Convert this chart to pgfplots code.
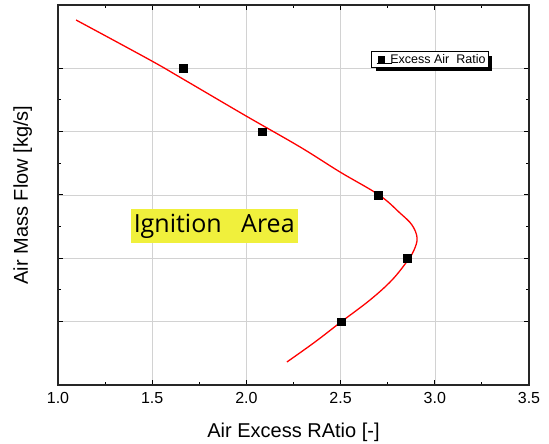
\documentclass[border=0pt]{standalone}
\usepackage{fontspec}
\setmainfont{Liberation Sans}
\newfontfamily\areafont{Open Sans}
\usepackage{pgfplots}
\pgfplotsset{compat=1.18}
\usetikzlibrary{shadows, calc}
\definecolor{hilite}{RGB}{240,240,60}

\begin{document}
\begin{tikzpicture}
\begin{axis}[
    scale only axis,
    width=471pt, height=380pt,
    xmin=1.0, xmax=3.5,
    ymin=0, ymax=6,
    xtick={1.0,1.5,2.0,2.5,3.0,3.5},
    minor x tick num=1,
    ytick={1,2,3,4,5},
    minor y tick num=1,
    yticklabels={},
    tick align=inside,
    major tick length=5pt,
    minor tick length=3pt,
    tick style={black, line width=1pt},
    axis line style={line width=1.3pt, black!85},
    grid=major,
    grid style={gray!35, line width=0.6pt},
    /pgf/number format/assume math mode=true,
    xticklabel style={font=\fontsize{16}{18}\selectfont,
        /pgf/number format/.cd, fixed, fixed zerofill, precision=1},
    xticklabel shift=4pt,
    xlabel={Air Excess RAtio [-]},
    ylabel={Air Mass Flow [kg/s]},
    label style={font=\fontsize{20}{22}\selectfont},
    x label style={at={(axis description cs:0.5,-0.124)}, anchor=center},
    y label style={at={(axis description cs:-0.075,0.5)}, anchor=center},
    legend style={at={(axis cs:2.975,5.14)}, anchor=center,
        font=\fontsize{12.5}{13.5}\selectfont, draw=black, line width=0.5pt,
        inner xsep=1pt, inner ysep=0.5pt,
        drop shadow={shadow xshift=4pt, shadow yshift=-4pt, opacity=1, fill=black}},
    legend cell align=left,
]
%% fitted curve
\addplot[red, line width=1.3pt, smooth, tension=0.6, forget plot] coordinates {
    (1.096,5.763)(1.488,5.132)(1.663,4.832)(1.998,4.248)(2.285,3.758)
    (2.497,3.363)(2.704,3.000)(2.815,2.716)(2.879,2.526)(2.906,2.321)
    (2.890,2.132)(2.858,1.974)(2.773,1.658)(2.656,1.342)(2.502,0.995)
    (2.364,0.679)(2.215,0.363)};

%% measured points
\addplot[only marks, mark=square*, mark size=3.8pt, black,
    legend image code/.code={
        \path[draw=none] (0cm,0cm) -- (0.55cm,0cm);
        \draw[mark=square*, mark size=3.3pt, black]
        plot coordinates {(0.3cm,0cm)};}] coordinates {
    (1.663,5.0)(2.083,4.0)(2.699,3.0)(2.852,2.0)(2.502,1.0)};
\addlegendentry{Excess Air\ \ Ratio}

\node[fill=hilite, inner xsep=3pt, inner ysep=5pt,
      font=\areafont\fontsize{25}{28}\selectfont]
    at (axis cs:1.829,2.51) {Ignition\ \ \ Area};
\end{axis}
\pgfresetboundingbox
\path ($(current axis.south west)+(-58pt,-59pt)$) rectangle
      ($(current axis.north east)+(20pt,5pt)$);
\end{tikzpicture}
\end{document}
